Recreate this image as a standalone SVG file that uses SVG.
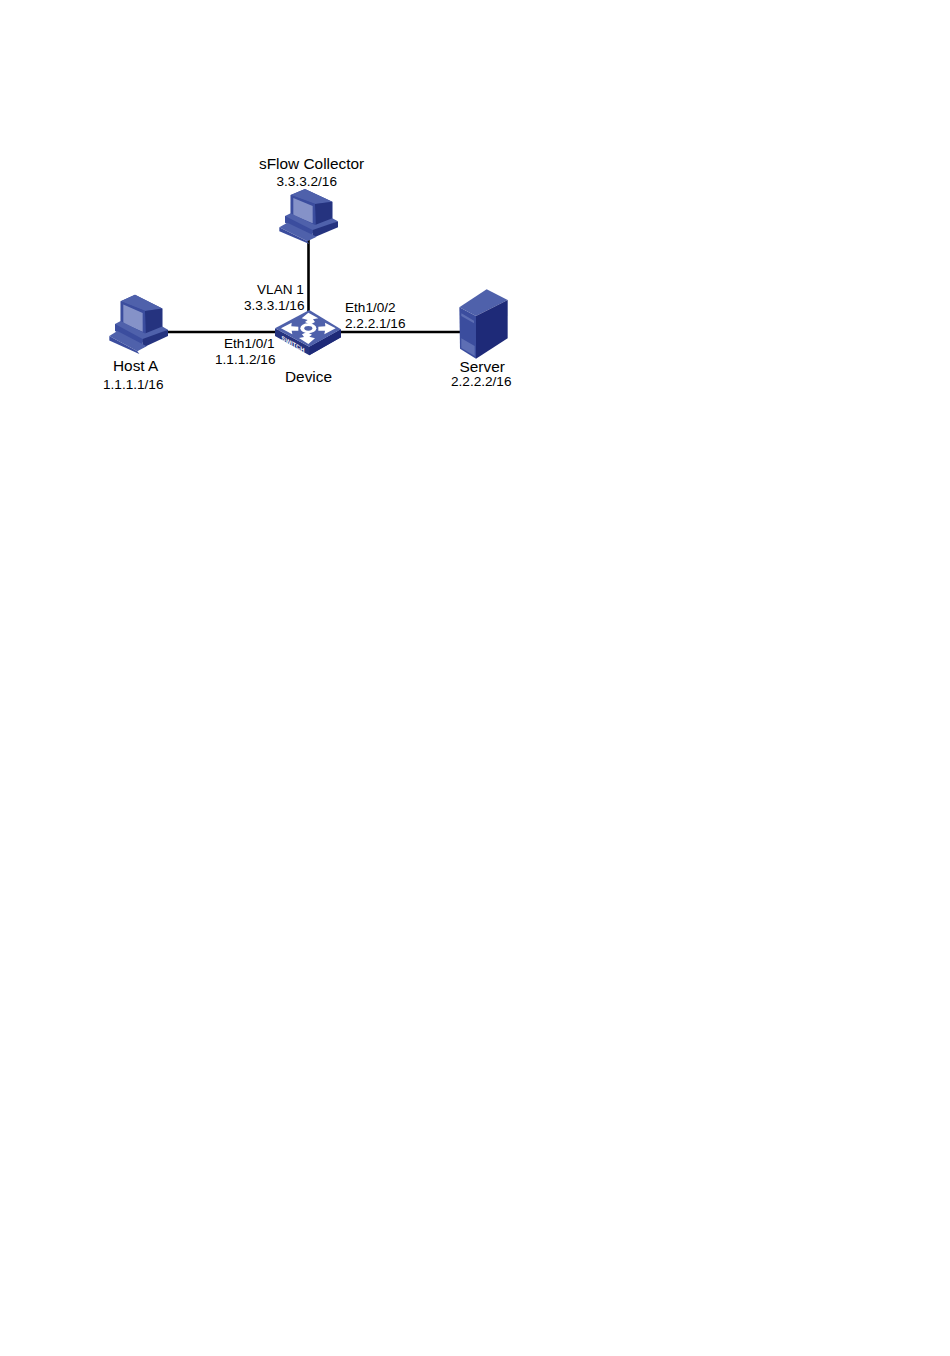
<svg xmlns="http://www.w3.org/2000/svg" width="950" height="1356" viewBox="0 0 950 1356">
<style>
text{font-family:"Liberation Sans",Arial,sans-serif;font-size:13.600px;fill:#000}
text.n{font-size:15.400px}
.c{stroke:#000;stroke-width:2.600;fill:none}
.top{fill:#4f61ab}.mid{fill:#3b4d9e}.dk{fill:#25337f}.dd{fill:#1e2a78}.scr{fill:#8592c8}
</style>
<defs>
<g id="pc">
<polygon class="mid" points="62,45 105,27 187,65 187,125 140,152 62,110"/>
<polygon class="top" points="62,45 105,27 187,65 137,72"/>
<polygon class="dk" points="135,72 187,65 187,125 137,148"/>
<polygon class="mid" points="62,45 135,72 137,138 62,110"/>
<polygon class="scr" points="70,54 128,78 128,130 70,106"/>
<polygon class="top" points="45,108 62,100 135,135 187,115 204,124 128,160 45,120"/>
<polygon class="mid" points="45,108 128,150 128,172 45,128"/>
<polygon class="dk" points="128,150 204,124 204,142 128,174"/>
<polygon class="top" points="28,142 52,128 140,170 112,184"/>
<polygon class="mid" points="28,142 112,184 118,192 28,154"/>
</g>
</defs>
<g id="connectors">
<line class="c" x1="308.500" y1="238" x2="308.500" y2="314"/>
<line class="c" x1="165" y1="332" x2="280" y2="332"/>
<line class="c" x1="338" y1="332" x2="462" y2="332"/>
</g>
<g id="sflow-collector">
<use href="#pc" transform="translate(270,180) scale(.3333)"/>
<text class="n" x="259" y="169">sFlow Collector</text>
<text x="276.500" y="186">3.3.3.2/16</text>
</g>
<g id="host-a">
<use href="#pc" transform="translate(100,285) scale(.3333,.36)"/>
<text class="n" x="113" y="371">Host A</text>
<text x="103" y="389">1.1.1.1/16</text>
</g>
<g id="device">
<g transform="translate(265,300) scale(.3333)">
<polygon class="dk" points="30,85 30,108 133,166 228,112 228,88 133,140"/>
<polygon class="dd" points="133,140 228,88 228,112 133,166"/>
<polygon class="top" points="30,85 133,30 228,88 133,140"/>
<g fill="#fff">
<polygon points="130,38 160,55 144,58 150,66 135,74 120,66 128,60 110,55"/>
<polygon points="130,132 102,114 117,111 111,103 126,96 141,104 133,110 150,115"/>
<polygon points="48,85 80,68 79,79 100,80 100,92 80,92 82,103"/>
<polygon points="212,85 180,68 181,79 160,80 160,92 180,92 178,103"/>
<ellipse cx="130" cy="85" rx="24" ry="15"/>
</g>
<ellipse cx="130" cy="85" rx="12" ry="7" class="top"/>
</g>
<text transform="matrix(.9 .5 0 1 281.500 340)" style="font-size:6.500px;font-weight:bold;fill:#fff">SWITCH</text>
<text class="n" x="285" y="382">Device</text>
</g>
<g id="server">
<g transform="translate(450,280) scale(.3333)">
<polygon class="top" points="28,82 110,28 173,60 78,108"/>
<polygon class="mid" points="28,82 78,108 78,236 30,206"/>
<polygon class="dd" points="78,108 173,60 173,175 78,236"/>
<polygon fill="#5d6eb4" points="34,100 72,122 72,130 34,108"/>
<polygon fill="#5d6eb4" points="34,175 74,198 74,228 34,204"/>
</g>
<text class="n" x="459.500" y="372">Server</text>
<text x="451" y="386">2.2.2.2/16</text>
</g>
<g id="labels">
<text x="257" y="294">VLAN 1</text>
<text x="244" y="310">3.3.3.1/16</text>
<text x="345" y="312">Eth1/0/2</text>
<text x="345" y="328">2.2.2.1/16</text>
<text x="224" y="348">Eth1/0/1</text>
<text x="215" y="364">1.1.1.2/16</text>
</g>
</svg>
